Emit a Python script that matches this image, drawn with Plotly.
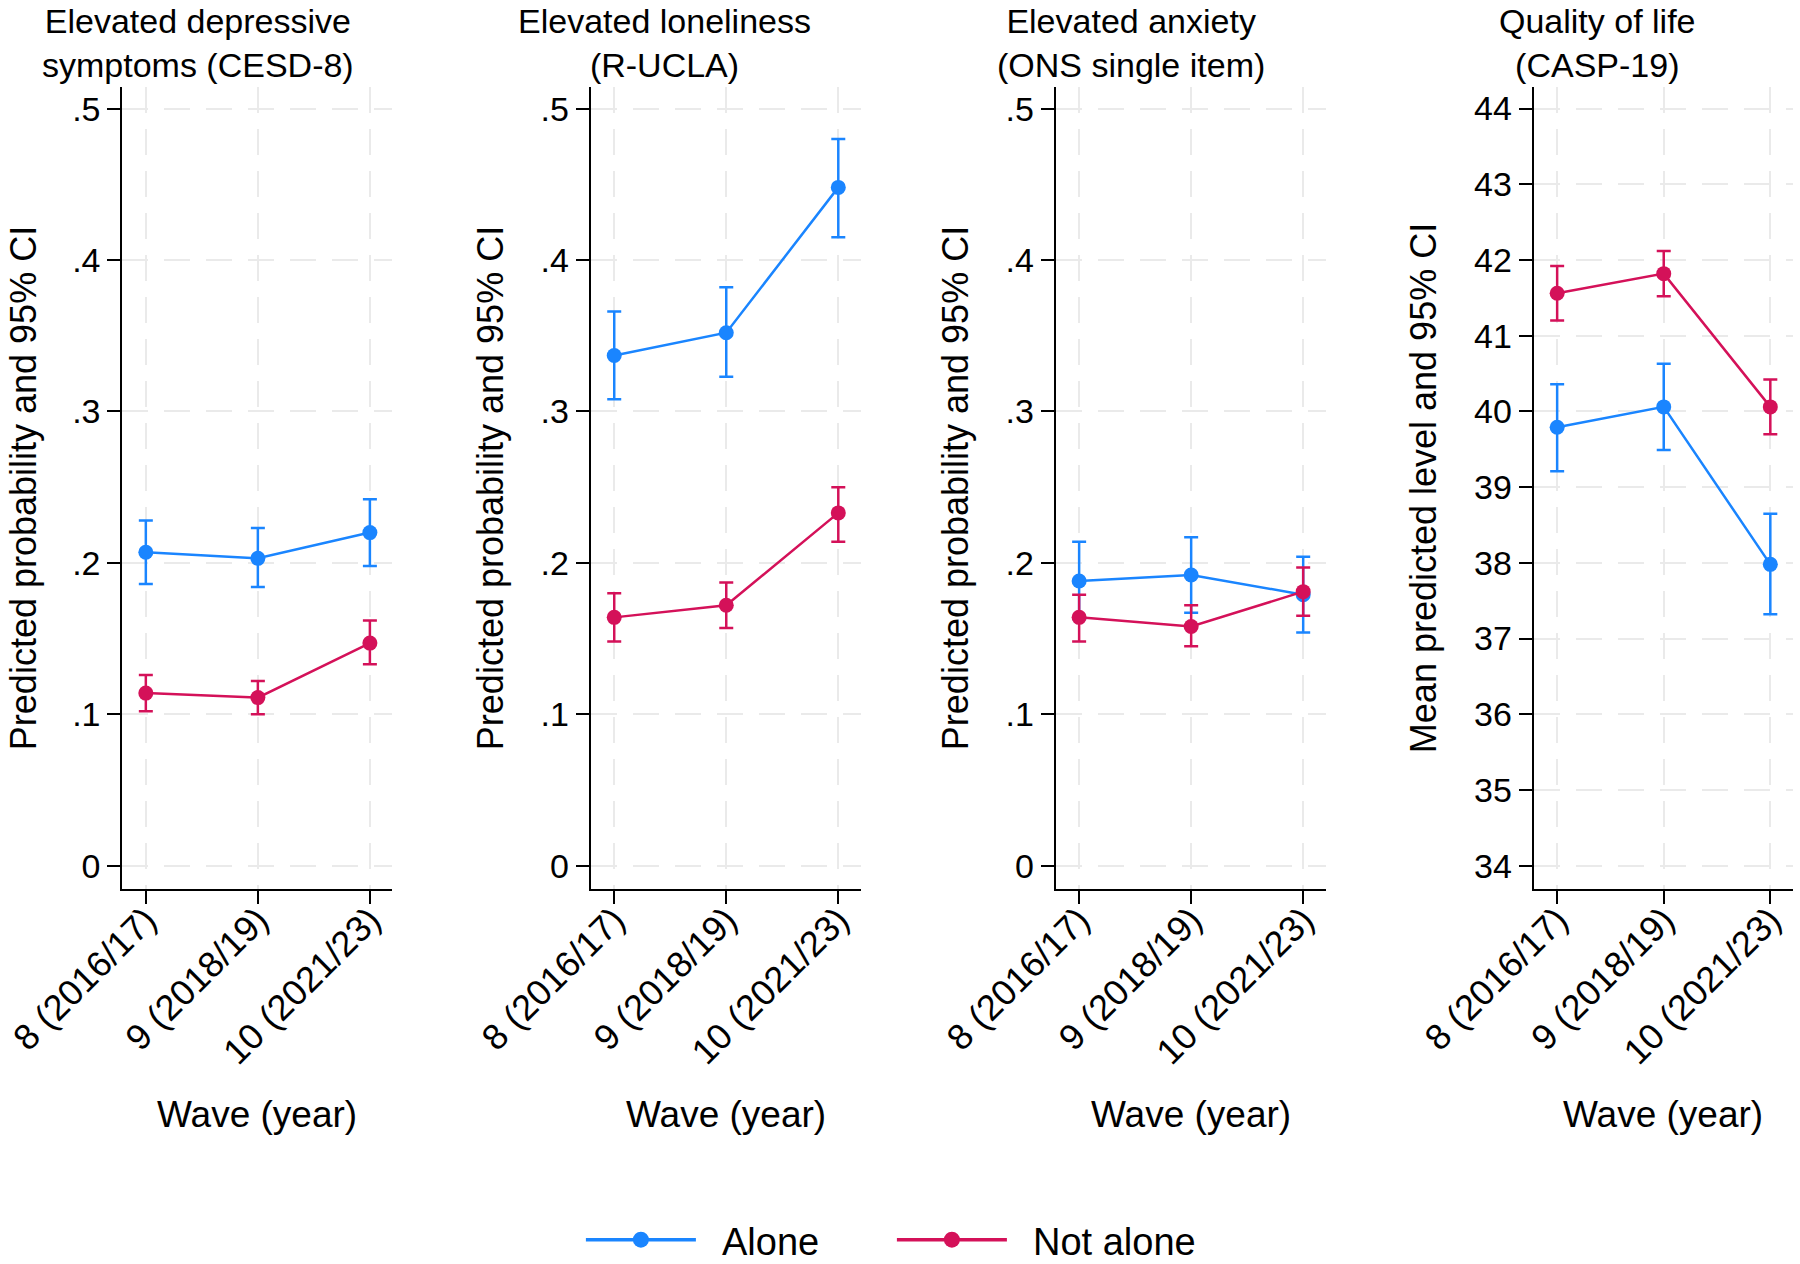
import plotly.graph_objects as go

# ---------------- data ----------------
waves = ["8 (2016/17)", "9 (2018/19)", "10 (2021/23)"]
groups = ["Alone", "Not alone"]

panel_titles = [
    ("Elevated depressive", "symptoms (CESD-8)"),
    ("Elevated loneliness", "(R-UCLA)"),
    ("Elevated anxiety", "(ONS single item)"),
    ("Quality of life", "(CASP-19)"),
]
y_titles = [
    "Predicted probability and 95% CI",
    "Predicted probability and 95% CI",
    "Predicted probability and 95% CI",
    "Mean predicted level and 95% CI",
]

# Elevated depressive symptoms (CESD-8)
dep_alone = [0.207, 0.203, 0.220]
dep_alone_lo = [0.186, 0.184, 0.198]
dep_alone_hi = [0.228, 0.223, 0.242]
dep_not = [0.114, 0.111, 0.147]
dep_not_lo = [0.102, 0.100, 0.133]
dep_not_hi = [0.126, 0.122, 0.162]

# Elevated loneliness (R-UCLA)
lon_alone = [0.337, 0.352, 0.448]
lon_alone_lo = [0.308, 0.323, 0.415]
lon_alone_hi = [0.366, 0.382, 0.480]
lon_not = [0.164, 0.172, 0.233]
lon_not_lo = [0.148, 0.157, 0.214]
lon_not_hi = [0.180, 0.187, 0.250]

# Elevated anxiety (ONS single item)
anx_alone = [0.188, 0.192, 0.179]
anx_alone_lo = [0.163, 0.167, 0.154]
anx_alone_hi = [0.214, 0.217, 0.204]
anx_not = [0.164, 0.158, 0.181]
anx_not_lo = [0.148, 0.145, 0.165]
anx_not_hi = [0.179, 0.172, 0.197]

# Quality of life (CASP-19)
qol_alone = [39.79, 40.06, 37.98]
qol_alone_lo = [39.21, 39.49, 37.32]
qol_alone_hi = [40.36, 40.63, 38.65]
qol_not = [41.56, 41.82, 40.06]
qol_not_lo = [41.20, 41.52, 39.70]
qol_not_hi = [41.92, 42.12, 40.42]

prob_ticks = [0, 0.1, 0.2, 0.3, 0.4, 0.5]
prob_ticklabels = ["0", ".1", ".2", ".3", ".4", ".5"]
qol_ticks = [34, 35, 36, 37, 38, 39, 40, 41, 42, 43, 44]
qol_ticklabels = [str(v) for v in qol_ticks]

panels = [
    [(dep_alone, dep_alone_lo, dep_alone_hi), (dep_not, dep_not_lo, dep_not_hi)],
    [(lon_alone, lon_alone_lo, lon_alone_hi), (lon_not, lon_not_lo, lon_not_hi)],
    [(anx_alone, anx_alone_lo, anx_alone_hi), (anx_not, anx_not_lo, anx_not_hi)],
    [(qol_alone, qol_alone_lo, qol_alone_hi), (qol_not, qol_not_lo, qol_not_hi)],
]

# ---------------- style / layout ----------------
W, H = 1800, 1264
FONT = "Liberation Sans, Arial, sans-serif"
colors = ["#1A85FF", "#D41159"]
x_pos = list(range(len(waves)))

# pixel geometry of each plot area
dom_px = [(122.3, 392.3), (590.7, 860.7), (1055.6, 1325.6), (1533.7, 1792.7)]
xr = [(-0.21, 2.2), (-0.21, 2.2), (-0.21, 2.2), (-0.22, 2.21)]
plot_top, plot_bot = 87.0, 889.3
ydom = [1 - plot_bot / H, 1 - plot_top / H]
y_ranges = [(-0.0156, 0.5143)] * 3 + [(33.688, 44.285)]
title_cx = [198, 664, 1131, 1597]
ytitle_cx = [23, 490, 955, 1423]

fig = go.Figure()

for p, series in enumerate(panels):
    xa = "x" if p == 0 else f"x{p+1}"
    ya = "y" if p == 0 else f"y{p+1}"
    for g, (vals, lo, hi) in enumerate(series):
        fig.add_trace(go.Scatter(
            x=x_pos, y=vals, xaxis=xa, yaxis=ya,
            mode="lines+markers", name=groups[g], showlegend=False,
            line=dict(color=colors[g], width=2.5),
            marker=dict(color=colors[g], size=15),
            error_y=dict(type="data", symmetric=False,
                         array=[h - v for h, v in zip(hi, vals)],
                         arrayminus=[v - l for v, l in zip(vals, lo)],
                         color=colors[g], thickness=2.5, width=7),
        ))

# legend-only traces
for g in range(2):
    fig.add_trace(go.Scatter(
        x=[None], y=[None], mode="lines+markers", name="\u00a0\u00a0" + groups[g],
        line=dict(color=colors[g], width=3.5),
        marker=dict(color=colors[g], size=17), showlegend=True,
    ))

grid_col = "#EAEAEA"
for p in range(4):
    sfx = "" if p == 0 else str(p + 1)
    x0, x1 = dom_px[p]
    fig.layout["xaxis" + sfx] = dict(
        domain=[x0 / W, x1 / W], range=list(xr[p]), anchor="y" + sfx,
        tickvals=x_pos, ticktext=waves, tickangle=-45, automargin=False,
        ticks="outside", ticklen=13, tickwidth=2, tickcolor="black",
        ticklabelstandoff=-20,
        showline=True, linecolor="black", linewidth=2,
        showgrid=True, gridcolor=grid_col, gridwidth=2, griddash="26px,16px",
        zeroline=False, tickfont=dict(family=FONT, size=36, color="black"),
        fixedrange=True,
    )
    fig.layout["yaxis" + sfx] = dict(
        domain=ydom, range=list(y_ranges[p]), anchor="x" + sfx, automargin=False,
        tickvals=qol_ticks if p == 3 else prob_ticks,
        ticktext=qol_ticklabels if p == 3 else prob_ticklabels,
        ticks="outside", ticklen=13, tickwidth=2, tickcolor="black",
        showline=True, linecolor="black", linewidth=2,
        showgrid=True, gridcolor=grid_col, gridwidth=2, griddash="26px,16px",
        zeroline=False, tickfont=dict(family=FONT, size=34, color="black"),
        fixedrange=True,
    )

annotations = []
for p in range(4):
    l1, l2 = panel_titles[p]
    annotations.append(dict(text=l1 + "<br>" + l2, x=title_cx[p] / W, y=1.0,
                            xref="paper", yref="paper",
                            xanchor="center", yanchor="top", showarrow=False,
                            font=dict(family=FONT, size=34, color="black")))
    annotations.append(dict(text=y_titles[p], x=ytitle_cx[p] / W, y=1 - (plot_top + plot_bot) / 2 / H,
                            xref="paper", yref="paper", xanchor="center", yanchor="middle",
                            textangle=-90, showarrow=False,
                            font=dict(family=FONT, size=36, color="black")))
    x0, x1 = dom_px[p]
    annotations.append(dict(text="Wave (year)", x=(x0 + x1) / 2 / W, y=1 - 1114 / H,
                            xref="paper", yref="paper", xanchor="center", yanchor="middle",
                            showarrow=False, font=dict(family=FONT, size=37, color="black")))

fig.update_layout(
    width=W, height=H, margin=dict(l=0, r=0, t=0, b=0, autoexpand=False),
    paper_bgcolor="white", plot_bgcolor="white",
    annotations=annotations,
    showlegend=True,
    legend=dict(orientation="h", x=0.4955, xanchor="center", y=1 - 1240 / H, yanchor="middle",
                font=dict(family=FONT, size=38, color="black"), itemwidth=110,
                entrywidth=186, entrywidthmode="pixels",
                bgcolor="rgba(0,0,0,0)"),
)

fig.write_html("out.html")
